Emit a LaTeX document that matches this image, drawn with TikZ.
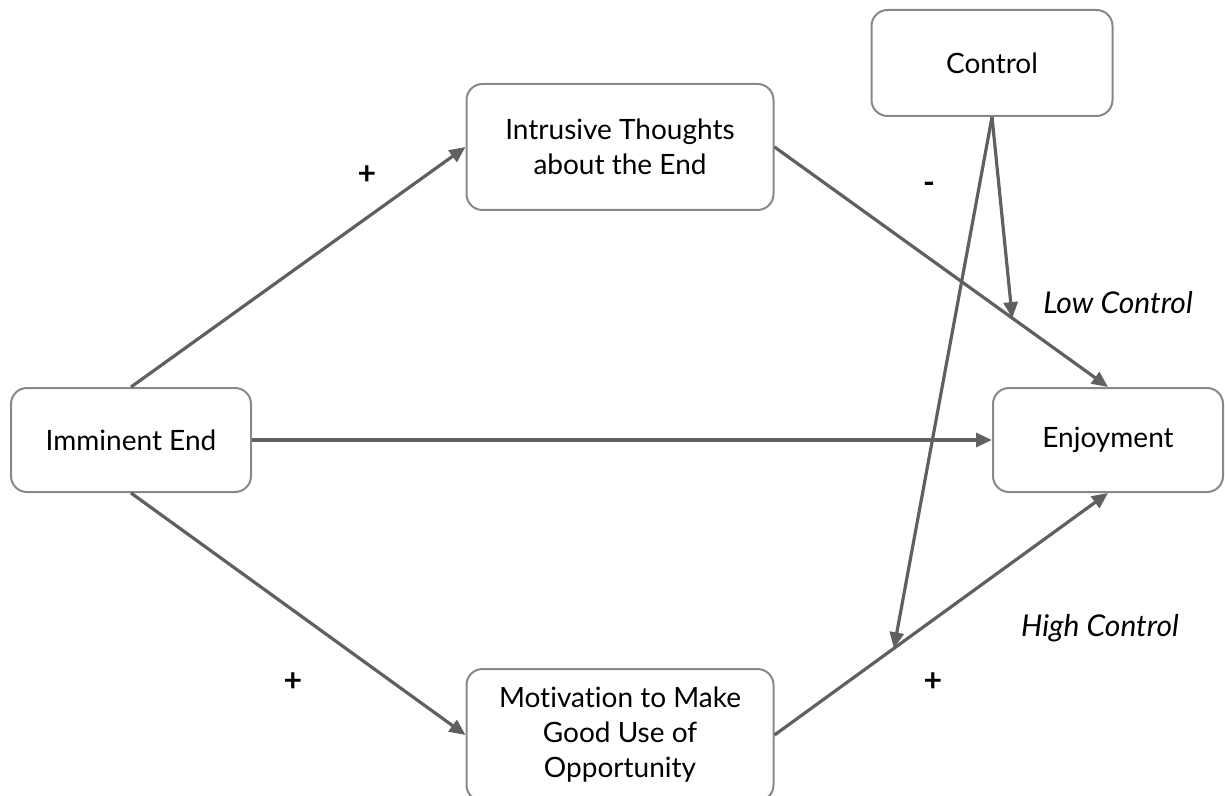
\documentclass[tikz,border=0pt]{standalone}
\usepackage{fontspec}
\setmainfont{Lato}[Ligatures=NoCommon]
\usetikzlibrary{arrows.meta,positioning}
\definecolor{edge}{HTML}{606060}
\definecolor{frame}{HTML}{888888}

\begin{document}
\begin{tikzpicture}[x=0.5pt,y=-0.5pt,>={Triangle[length=8pt,width=7pt]},
 n/.style={draw=frame,line width=1pt,rounded corners=8pt,align=center,inner sep=0pt,font=\fontsize{14}{17.5}\selectfont},
 a/.style={->,draw=edge,line width=1.6pt},
 sg/.style={font=\bfseries\fontsize{16}{16}\selectfont},
 lv/.style={font=\itshape\fontsize{15}{18}\selectfont}]
\useasboundingbox (0,0) rectangle (1225,796);
\node[n,minimum width=120pt,minimum height=52pt] (end) at (131,440) {Imminent End};
\node[n,minimum width=153.5pt,minimum height=63pt] (thought) at (620,147) {Intrusive Thoughts\\about the End};
\node[n,minimum width=153.5pt,minimum height=66pt] (motive) at (620,735) {Motivation to Make\\Good Use of\\Opportunity};
\node[n,minimum width=115pt,minimum height=52pt] (joy) at (1108,440) {Enjoyment};
\node[n,minimum width=120.5pt,minimum height=53pt] (ctrl) at (992,63) {Control};
\path (thought.east) -- (joy.north) coordinate[pos=0.713] (lowpt);
\path (motive.east) -- (joy.south) coordinate[pos=0.358] (highpt);
\draw[a] (end.north)--(thought.west);\draw[a] (end.south)--(motive.west);\draw[a] (end)--(joy);
\draw[a] (thought.east)--(joy.north);\draw[a] (motive.east)--(joy.south);
\draw[a] (ctrl.south)--(lowpt);\draw[a] (ctrl.south)--(highpt);
\node[sg] (p1) at (367,175) {+};
\node[sg] (p2) at (293,682) {+};
\node[sg] (m1) at (929,188) {-};
\node[sg] (p3) at (933,682) {+};
\node[lv] (low) at (1118,303) {Low Control};
\node[lv] (high) at (1100,628) {High Control};
\end{tikzpicture}
\end{document}
